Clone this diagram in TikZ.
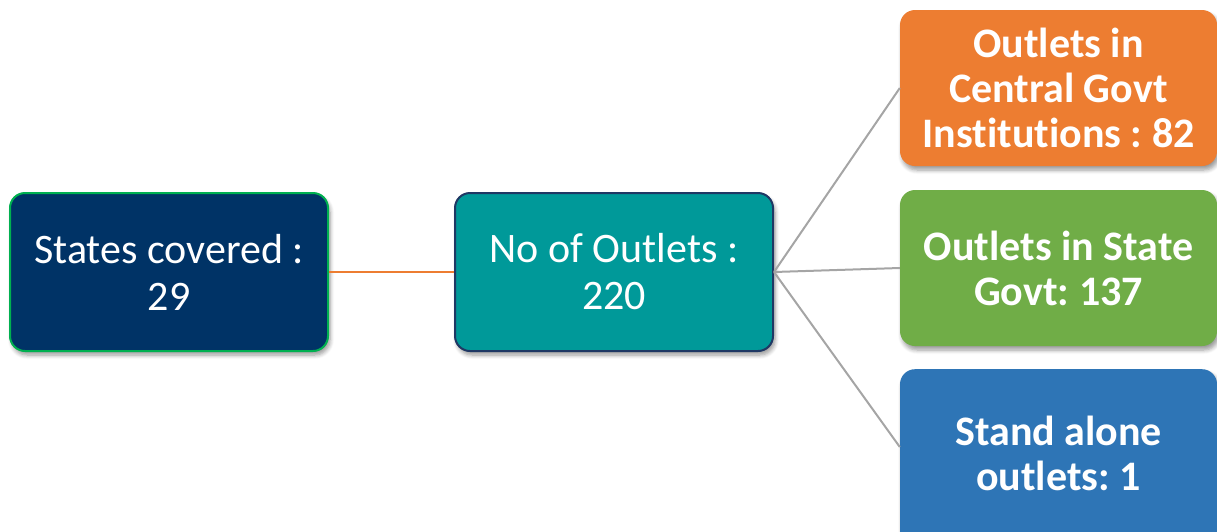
\documentclass[tikz,border=0pt]{standalone}
\usepackage{fontspec}
\setmainfont{Carlito}[RawFeature=-liga]
\frenchspacing
\usetikzlibrary{shadows.blur}
\definecolor{navy}{HTML}{003366}
\definecolor{teal1}{HTML}{009999}
\definecolor{navyedge}{HTML}{1F3864}
\definecolor{greenedge}{HTML}{00B050}
\definecolor{orng}{HTML}{ED7D31}
\definecolor{grn}{HTML}{70AD47}
\definecolor{blu}{HTML}{2E75B6}
\definecolor{lgray}{HTML}{A5A5A5}
\tikzset{
  box/.style={rounded corners=15pt, text=white, align=center, inner sep=0pt,
    blur shadow={shadow xshift=2pt, shadow yshift=-4pt, shadow blur steps=6, shadow blur radius=4pt, shadow opacity=40}},
  plainfont/.style={font=\fontsize{42}{47}\selectfont},
  boldfont/.style={font=\fontsize{42}{45}\selectfont\bfseries},
}
\begin{document}
\begin{tikzpicture}[x=1pt,y=-1pt]
\useasboundingbox (0,0) rectangle (1217,531);
% boxes
\node[box, plainfont, fill=navy, draw=greenedge, line width=2pt, minimum width=318pt, minimum height=158pt] (states) at (169,272) {States covered :\\29};
\node[box, plainfont, fill=teal1, draw=navyedge, line width=2pt, minimum width=318pt, minimum height=158pt] (outlets) at (614,272) {No of Outlets :\\220};
\node[box, boldfont, fill=orng, minimum width=317pt, minimum height=156pt] (central) at (1058.5,88) {Outlets in\\Central Govt\\Institutions : 82};
\node[box, boldfont, fill=grn, minimum width=317pt, minimum height=156pt] (stategovt) at (1058.5,268) {Outlets in State\\Govt: 137};
\node[box, boldfont, fill=blu, minimum width=317pt, minimum height=180pt, anchor=north] (standalone) at (1058.5,369) {};
\node[boldfont, text=white, align=center] (standtext) at (1058.5,453) {Stand alone\\outlets: 1};
% connectors
\draw[orng, line width=2pt] (states.east) -- (outlets.west);
\coordinate (hub) at (outlets.east);
\draw[lgray, line width=2pt] (hub) -- (central.west);
\draw[lgray, line width=2pt] (hub) -- (stategovt.west);
\draw[lgray, line width=2pt] (hub) -- (standalone.west |- 0,447);
\end{tikzpicture}
\end{document}
